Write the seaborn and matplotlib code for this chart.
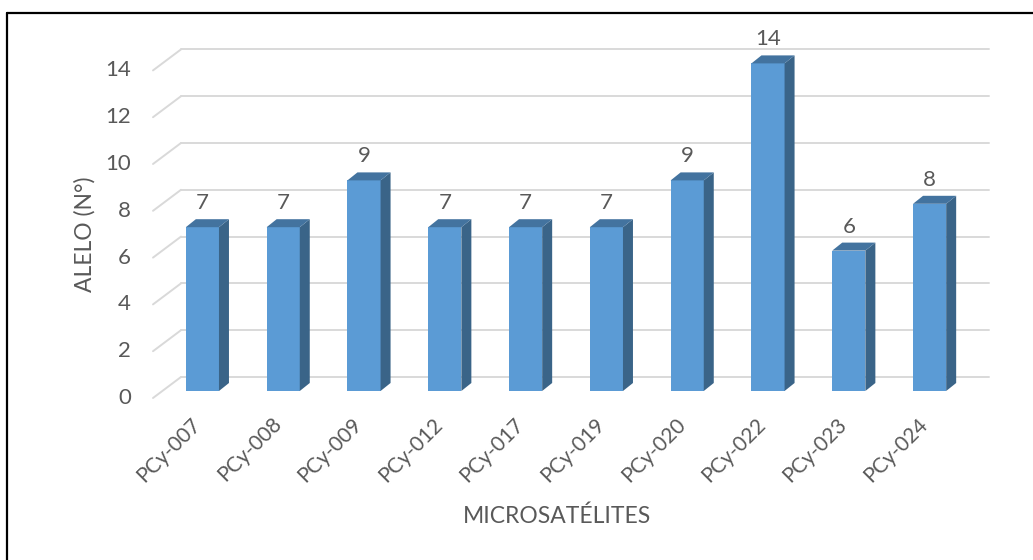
import numpy as np
import pandas as pd
import matplotlib
matplotlib.use("Agg")
import matplotlib.pyplot as plt
from matplotlib.patches import Polygon
from matplotlib.lines import Line2D
from matplotlib.transforms import ScaledTranslation
import seaborn as sns

# Allele counts per microsatellite locus
markers = ["PCy-007", "PCy-008", "PCy-009", "PCy-012", "PCy-017",
           "PCy-019", "PCy-020", "PCy-022", "PCy-023", "PCy-024"]
alleles = [7, 7, 9, 7, 7, 7, 9, 14, 6, 8]
y_ticks = [0, 2, 4, 6, 8, 10, 12, 14]
x_title = "MICROSATÉLITES"
y_title = "ALELO (N°)"

FRONT = "#5B9BD5"
SIDE = "#3A6488"
TOP = "#43739F"
GRID = "#D9D9D9"
TEXT = "#595959"
FS = 16

sns.set_theme(style="white")
plt.rcParams["font.family"] = ["Lato", "DejaVu Sans"]

DPI = 100
W, H = 1033, 560
fig = plt.figure(figsize=(W / DPI, H / DPI), dpi=DPI)
ax = fig.add_axes([162 / W, (H - 391) / H, 808 / W, 327.6 / H])

df = pd.DataFrame({"marker": markers, "alleles": alleles})
sns.barplot(data=df, x="marker", y="alleles", color=FRONT, saturation=1,
            width=0.41, ax=ax, zorder=3, linewidth=0)

ax.set_xlim(-0.5, len(markers) - 0.5)
ax.set_ylim(0, 14)
ax.set_axis_off()


def px(dx, dy):
    """Offset transform expressed in screen pixels."""
    return ScaledTranslation(dx / DPI, dy / DPI, fig.dpi_scale_trans)


def px_to_data(dx, dy):
    """Convert a pixel displacement into data units."""
    inv = ax.transData.inverted()
    p0 = ax.transData.transform((0, 0))
    return inv.transform(p0 + np.array([dx, dy])) - inv.transform(p0)


# Depth of the bars and of the wall, in data units
ddx, ddy = px_to_data(10, 8)
fx, fy = px_to_data(-9, -7)     # front plane relative to bar plane
bx, by = px_to_data(19, 14)     # back wall relative to bar plane

x_left, x_right = ax.get_xlim()
for t in y_ticks:
    # back wall gridline
    ax.add_line(Line2D([x_left + bx, x_right + bx], [t + by, t + by],
                       color=GRID, lw=1.4, zorder=1, clip_on=False))
    # diagonal from the front plane to the back wall at the left end
    ax.add_line(Line2D([x_left + fx, x_left + bx], [t + fy, t + by],
                       color=GRID, lw=1.4, zorder=1, clip_on=False))
    # tick label on the front plane
    ax.text(x_left, t, str(t), ha="right", va="center", fontsize=FS,
            color=TEXT, transform=ax.transData + px(-31, -7))

# Side and top faces of each bar
for patch in list(ax.patches)[:len(alleles)]:
    x0 = patch.get_x()
    x1 = x0 + patch.get_width()
    v = patch.get_height()
    side = Polygon([(x1, 0), (x1 + ddx, ddy), (x1 + ddx, v + ddy), (x1, v)],
                   closed=True, facecolor=SIDE, edgecolor="none", zorder=3,
                   clip_on=False)
    top = Polygon([(x0, v), (x1, v), (x1 + ddx, v + ddy), (x0 + ddx, v + ddy)],
                  closed=True, facecolor=TOP, edgecolor="none", zorder=3,
                  clip_on=False)
    ax.add_patch(side)
    ax.add_patch(top)

# Value labels above the bars
for i, v in enumerate(alleles):
    ax.text(i, v, str(v), ha="center", va="center", fontsize=FS, color=TEXT,
            transform=ax.transData + px(0, 24), zorder=5)

# Category labels, rotated
for i, m in enumerate(markers):
    ax.text(i, 0, m, ha="right", va="center", rotation=45,
            rotation_mode="anchor", fontsize=15, color=TEXT,
            transform=ax.transData + px(-5, -30))

fig.text(557 / W, 1 - 516 / H, x_title, ha="center", va="center",
         fontsize=16.5, color=TEXT)
fig.text(85 / W, 1 - 234 / H, y_title, ha="center", va="center",
         rotation=90, fontsize=16.5, color=TEXT)

# Chart frame (top and left edges)
fig.add_artist(Line2D([7 / W, 1], [1 - 13 / H, 1 - 13 / H], color="black",
                      lw=1.6, transform=fig.transFigure))
fig.add_artist(Line2D([7 / W, 7 / W], [0, 1 - 13 / H], color="black",
                      lw=1.6, transform=fig.transFigure))

fig.savefig("out.png", dpi=DPI)
